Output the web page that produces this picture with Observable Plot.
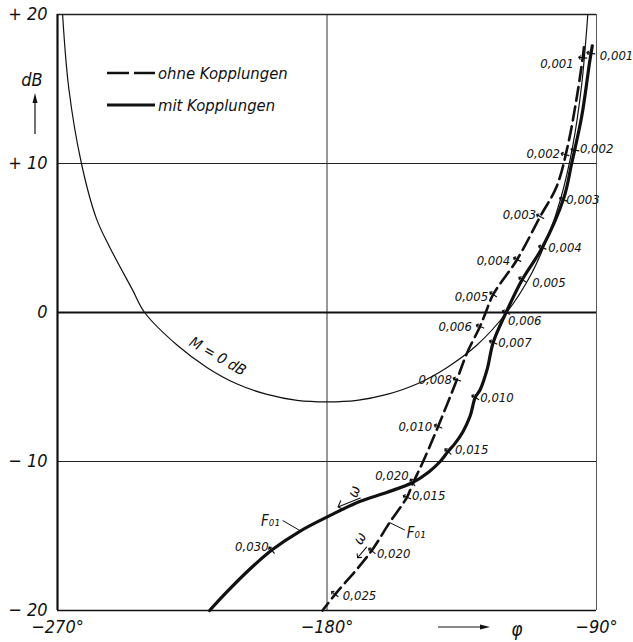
<!DOCTYPE html>
<html>
<head>
<meta charset="utf-8">
<script src="https://cdn.jsdelivr.net/npm/d3@7"></script>
<script src="https://cdn.jsdelivr.net/npm/@observablehq/plot@0.6"></script>
<style>
  body { margin: 0; background: #fff; }
  #chart { position: relative; width: 633px; height: 642px; }
</style>
</head>
<body>
<div id="chart"></div>
<script>
// ---------- data ----------
const yTicks = [20, 10, 0, -10, -20];
const yTickLabels = ["+ 20", "+ 10", "0", "\u2212 10", "\u2212 20"];
const xTicks = [-270, -180, -90];
const xTickLabels = ["\u2212270°", "\u2212180°", "\u221290°"];

// M = 0 dB contour (phase in degrees, magnitude in dB)
const mPhase = [-268.3, -266.2, -262.0, -257.0, -252.6, -244.9, -240.9, -230, -220, -210, -200, -190, -180, -170, -160, -150, -140, -130, -120, -112, -106, -102, -98, -95, -92.9];
const mDb    = [20, 15, 10, 6.3, 4.4, 1.5, 0, -2.2, -3.7, -4.8, -5.5, -5.9, -6.0, -5.9, -5.5, -4.8, -3.7, -2.2, 0, 2.5, 5.2, 7.6, 11.1, 15.2, 20];

// ohne Kopplungen (dashed)
const dashedPhase = [-94.2, -94.6, -96.7, -99.7, -103.3, -108.8, -116.5, -124.5, -127.0, -128.9, -133.2, -136.6, -142.9, -147.9, -151.4, -153.3, -159.1, -164.8, -170.1, -176.8, -181.5];
const dashedDb    = [17.8, 17.1, 14.3, 11.1, 8.46, 6.44, 3.56, 1.21, 0, -0.94, -2.7, -4.5, -7.65, -10.0, -11.5, -12.4, -14.1, -15.9, -17.25, -18.8, -20];

// mit Kopplungen (solid)
const solidPhase = [-91.4, -92.3, -94.9, -98.3, -100.9, -108.1, -114.8, -120.2, -124.5, -126.5, -128.9, -130.5, -132.2, -134.6, -137.3, -139.6, -142.2, -146.0, -151.4, -160.1, -169.1, -178.2, -189.2, -198.2, -205.9, -213.6, -219.2];
const solidDb    = [17.9, 16.8, 13.2, 10.0, 7.7, 4.36, 2.21, 0, -2.01, -3.8, -5.2, -5.7, -6.95, -8.0, -8.8, -9.33, -10.0, -10.7, -11.41, -12.08, -12.68, -13.55, -14.7, -15.91, -17.25, -18.79, -20];

// frequency marks
const dashedFreq      = ["0,001", "0,002", "0,003", "0,004", "0,005", "0,006", "0,008", "0,010", "0,015", "0,020", "0,025"];
const dashedFreqPhase = [-94.6, -100.5, -108.8, -116.5, -124.5, -128.9, -136.6, -142.9, -153.3, -165.0, -177.4];
const dashedFreqDb    = [17.1, 10.6, 6.44, 3.56, 1.21, -0.94, -4.5, -7.65, -12.4, -16.0, -18.9];

const solidFreq      = ["0,001", "0,002", "0,003", "0,004", "0,005", "0,006", "0,007", "0,010", "0,015", "0,020", "0,030"];
const solidFreqPhase = [-91.9, -97.2, -101.1, -108.1, -114.8, -120.2, -124.5, -130.5, -139.6, -151.4, -198.5];
const solidFreqDb    = [17.4, 10.9, 7.58, 4.36, 2.21, 0, -2.01, -5.7, -9.33, -11.4, -15.95];

// annotations (F01 leaders, omega arrows, contour label)
const f01Curve  = [{phase: -188.5, db: -14.7}, {phase: -159.1, db: -14.1}];
const f01Anchor = [{phase: -194.8, db: -13.96}, {phase: -154.0, db: -14.6}];
const omegaPhase = [-172.6, -168.3];
const omegaDb    = [-12.75, -16.1];
const mLabel = {phase: -216.5, db: -2.95, text: "M = 0 dB"};

// ---------- layout (pixels) ----------
const W = 633, H = 642, mL = 57, mR = 37, mT = 14, mB = 32;
const kx = (W - mL - mR) / 180, ky = (H - mT - mB) / 40;
const dashedLabelLayout = [
  [-9, 6, "end"], [-5, -1, "end"], [-4, -2, "end"], [-7, 1, "end"], [-5, 2, "end"], [-8, 0, "end"],
  [-5, 0, "end"], [-6, 0, "end"], [5, -1, "start"], [5, 3, "start"], [8, 2, "start"]
];
const solidLabelLayout = [
  [9, 3, "start"], [5, -1, "start"], [3, 0, "start"], [6, 0, "start"], [10, 3, "start"], [2, 8, "start"],
  [5, 0, "start"], [5, 0, "start"], [7, -2, "start"], [-4, -7, "end"], [-3, -3, "end"]
];

const zip = (p, d) => p.map((v, i) => ({phase: v, db: d[i]}));
const mData = zip(mPhase, mDb);
const dashedData = zip(dashedPhase, dashedDb);
const solidData = zip(solidPhase, solidDb);

function perpAngle(curve, ph) {
  let i = 0;
  for (; i < curve.length - 2; i++) {
    if ((curve[i].phase - ph) * (curve[i + 1].phase - ph) <= 0) break;
  }
  const a = curve[i], b = curve[i + 1];
  const dx = (b.phase - a.phase) * kx, dy = -(b.db - a.db) * ky;
  const nx = -dy, ny = dx;
  return Math.atan2(nx, -ny) * 180 / Math.PI;
}

const dashedMarks = dashedFreq.map((t, i) => ({
  text: t, phase: dashedFreqPhase[i], db: dashedFreqDb[i],
  rot: perpAngle(dashedData, dashedFreqPhase[i]),
  dx: dashedLabelLayout[i][0], dy: dashedLabelLayout[i][1], anchor: dashedLabelLayout[i][2]
}));
const solidMarks = solidFreq.map((t, i) => ({
  text: t, phase: solidFreqPhase[i], db: solidFreqDb[i],
  rot: perpAngle(solidData, solidFreqPhase[i]),
  dx: solidLabelLayout[i][0], dy: solidLabelLayout[i][1], anchor: solidLabelLayout[i][2]
}));
const allMarks = dashedMarks.concat(solidMarks);

const labelFont = 13;
const freqTextMarks = allMarks.map(d => Plot.text([d], {
  x: "phase", y: "db", text: "text", textAnchor: d.anchor, dx: d.dx, dy: d.dy, fontSize: labelFont
}));

const fontFamily = '"DejaVu Sans Condensed", "DejaVu Sans", sans-serif';

const chart = Plot.plot({
  width: W, height: H,
  marginLeft: mL, marginRight: mR, marginTop: mT, marginBottom: mB,
  x: {domain: [-270, -90], label: null},
  y: {domain: [-20, 20], label: null},
  style: {fontFamily, fontStyle: "italic", fontStretch: "condensed", background: "#fff", color: "#111"},
  marks: [
    Plot.ruleY([10, -10], {strokeWidth: 1, stroke: "#222"}),
    Plot.ruleX([-180], {strokeWidth: 1, stroke: "#333"}),
    Plot.ruleX([-90], {strokeWidth: 0.9, stroke: "#444"}),
    Plot.ruleY([20], {strokeWidth: 1.4, stroke: "#222"}),
    Plot.ruleY([0], {strokeWidth: 2, stroke: "#111"}),
    Plot.ruleY([-20], {strokeWidth: 1.6, stroke: "#111"}),
    Plot.ruleX([-270], {strokeWidth: 2.2, stroke: "#111"}),
    Plot.line(mData, {x: "phase", y: "db", curve: "catmull-rom", strokeWidth: 1.2, stroke: "#111"}),
    Plot.line(dashedData, {x: "phase", y: "db", curve: "catmull-rom", strokeWidth: 2.6, strokeDasharray: "14,6", stroke: "#111"}),
    Plot.line(solidData, {x: "phase", y: "db", curve: "catmull-rom", strokeWidth: 3.2, stroke: "#111"}),
    Plot.vector(allMarks, {x: "phase", y: "db", rotate: "rot", length: 8, anchor: "middle", strokeWidth: 1.2, stroke: "#111"}),
    ...freqTextMarks,
    // F01 leaders and labels
    Plot.link([0, 1], {x1: i => f01Curve[i].phase, y1: i => f01Curve[i].db, x2: i => f01Anchor[i].phase, y2: i => f01Anchor[i].db, strokeWidth: 1, stroke: "#111"}),
    Plot.text([f01Anchor[0]], {x: "phase", y: "db", text: () => "F\u2080\u2081", textAnchor: "end", dx: -3, dy: 1, fontSize: 15}),
    Plot.text([f01Anchor[1]], {x: "phase", y: "db", text: () => "F\u2080\u2081", textAnchor: "start", dx: 2, dy: 3, fontSize: 15}),
    // omega arrows
    Plot.vector([0], {x: () => omegaPhase[0], y: () => omegaDb[0], rotate: -112, length: 24, anchor: "middle", strokeWidth: 1.1, stroke: "#111"}),
    Plot.vector([1], {x: () => omegaPhase[1], y: () => omegaDb[1], rotate: -140, length: 14, anchor: "middle", strokeWidth: 1.1, stroke: "#111"}),
    Plot.text([0], {x: () => omegaPhase[0], y: () => omegaDb[0], text: () => "\u03c9", rotate: -70, dx: 5, dy: -11, fontSize: 15}),
    Plot.text([1], {x: () => omegaPhase[1], y: () => omegaDb[1], text: () => "\u03c9", rotate: -60, dx: -2, dy: -14, fontSize: 15}),
    // contour label
    Plot.text([mLabel], {x: "phase", y: "db", text: "text", rotate: 30, fontSize: 15}),
    // axes
    Plot.axisY(yTicks, {tickSize: 0, tickPadding: 10, fontSize: 18, label: null,
      tickFormat: d => yTickLabels[yTicks.indexOf(d)]}),
    Plot.axisX(xTicks, {tickSize: 0, tickPadding: 10, fontSize: 18, label: null,
      tickFormat: d => xTickLabels[xTicks.indexOf(d)]})
  ]
});

document.getElementById("chart").appendChild(chart);

// ---------- decorations: legend and axis arrows ----------
const svg = d3.select(chart);
const g = svg.append("g").attr("fill", "none").attr("stroke", "#111");
g.append("line").attr("x1", 107).attr("x2", 155).attr("y1", 73).attr("y2", 73)
  .attr("stroke-width", 2.6).attr("stroke-dasharray", "22,5");
g.append("line").attr("x1", 107).attr("x2", 155).attr("y1", 105).attr("y2", 105)
  .attr("stroke-width", 3);
const t = svg.append("g").attr("fill", "#111").attr("stroke", "none").attr("font-size", 16.5)
  .attr("font-family", fontFamily).attr("font-style", "italic").attr("text-anchor", "start");
t.append("text").attr("x", 158).attr("y", 73).attr("dy", "0.35em").text("ohne Kopplungen");
t.append("text").attr("x", 158).attr("y", 105).attr("dy", "0.35em").text("mit Kopplungen");

// dB arrow
t.append("text").attr("x", 32).attr("y", 80).attr("dy", "0.35em").attr("font-size", 18)
  .attr("text-anchor", "middle").text("dB");
g.append("line").attr("x1", 35).attr("x2", 35).attr("y1", 134).attr("y2", 100).attr("stroke-width", 1.2);
t.append("path").attr("d", "M35,93 L32.5,103 L37.5,103 Z");
// phase arrow
g.append("line").attr("x1", 438).attr("x2", 482).attr("y1", 627).attr("y2", 627).attr("stroke-width", 1.2);
t.append("path").attr("d", "M490,627 L480,624.5 L480,629.5 Z");
t.append("text").attr("x", 517).attr("y", 629).attr("dy", "0.35em").attr("font-size", 19)
  .attr("text-anchor", "middle").text("\u03c6");
</script>
</body>
</html>
